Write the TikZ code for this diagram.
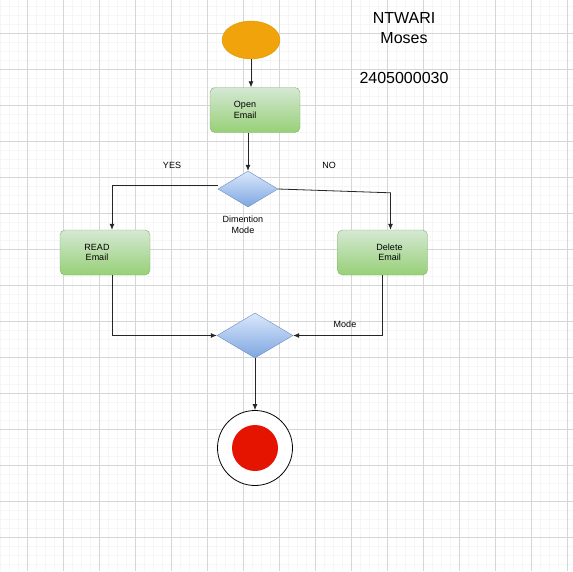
\documentclass[tikz,border=0pt]{standalone}
\usepackage{fontspec}
\setmainfont{Liberation Sans}
\usetikzlibrary{arrows.meta,positioning,shapes.geometric,calc}
\definecolor{startfill}{HTML}{F0A30A}
\definecolor{startline}{HTML}{D79B00}
\definecolor{greentop}{HTML}{D5E8D4}
\definecolor{greenbot}{HTML}{97D077}
\definecolor{greenline}{HTML}{82B366}
\definecolor{bluetop}{HTML}{DAE8FC}
\definecolor{bluebot}{HTML}{7EA6E0}
\definecolor{blueline}{HTML}{6C8EBF}
\definecolor{endred}{HTML}{E51400}
\definecolor{minorgrid}{HTML}{F6F6F6}
\definecolor{majorgrid}{HTML}{D6D6D6}
\begin{document}
\begin{tikzpicture}[x=1pt, y=-1pt, >={Latex[length=6pt,width=5pt]}]
        \tikzset{actbox/.style={draw=greenline, rounded corners=5pt, top color=greentop, bottom color=greenbot, minimum width=90pt, minimum height=45pt, inner sep=0pt},
                 decision/.style={diamond, draw=blueline, top color=bluetop, bottom color=bluebot, inner sep=0pt},
                 smalltext/.style={font=\fontsize{9}{10.5}\selectfont, align=center, inner sep=0pt},
                 flow/.style={->, draw=black!85, line width=0.8pt}}
        \useasboundingbox (0,0) rectangle (573,571);
        \fill[white] (0,0) rectangle (573,571);
        \foreach \x in {0,9,...,572} \draw[minorgrid, line width=0.7pt] (\x,0) -- (\x,571);
        \foreach \y in {6,15,...,571} \draw[minorgrid, line width=0.7pt] (0,\y) -- (573,\y);
        \foreach \x in {27,63,...,572} \draw[majorgrid, line width=0.8pt] (\x,0) -- (\x,571);
        \foreach \y in {33,69,...,571} \draw[majorgrid, line width=0.8pt] (0,\y) -- (573,\y);
        \node[ellipse, draw=startline, fill=startfill, minimum width=58pt, minimum height=38pt, inner sep=0pt] (start) at (251,40) {};
        \node[actbox, label={[smalltext, xshift=-10pt]center:Open\\Email}] (open) at (255,110) {};
        \node[decision, minimum width=60pt, minimum height=36pt, label={[smalltext, xshift=-5pt, label distance=9pt]below:Dimention\\Mode}] (dec1) at (248,189) {};
        \node[actbox, label={[smalltext, xshift=-8pt]center:READ\\Email}] (read) at (105,252.5) {};
        \node[actbox, label={[smalltext, xshift=7pt]center:Delete\\Email}] (delete) at (382.5,252.5) {};
        \node[decision, minimum width=76pt, minimum height=45pt] (dec2) at (255,335.5) {};
        \node[circle, draw=black, fill=white, minimum size=75pt, inner sep=0pt, line width=0.8pt] (endc) at (255,448) {};
        \node[circle, fill=endred, minimum size=46pt, inner sep=0pt] (endin) at (endc) {};
        \node[smalltext] (yes) at (172,165) {YES};
        \node[smalltext] (no) at (329,165) {NO};
        \node[smalltext] (mode) at (345,324) {Mode};
        \node[font=\fontsize{16}{20}\selectfont, align=center, inner sep=0pt] (title) at (404,48) {NTWARI\\Moses\\[20pt]2405000030};
        \draw[flow] (start) -- (start |- open.north);
        \draw[flow] (open.south -| dec1.north) -- (dec1.north);
        \draw[flow] ($(dec1.west)+(0,-4)$) -| ([xshift=7pt]read.north);
        \draw[flow] (dec1.east) -- ($(delete.north)+(8,-37)$) -- ([xshift=8pt]delete.north);
        \draw[flow] ([xshift=7pt]read.south) |- (dec2.west);
        \draw[flow] (delete.south) |- (dec2.east);
        \draw[flow] (dec2.south) -- (endc.north);
    \end{tikzpicture}
\end{document}
